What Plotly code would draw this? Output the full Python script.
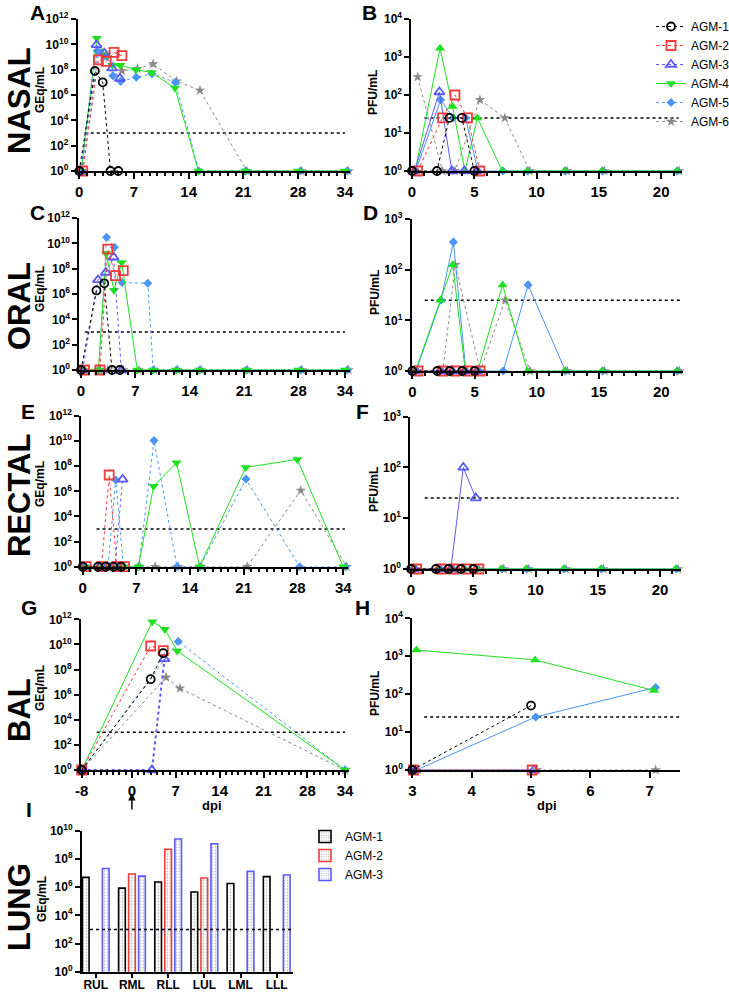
import plotly.graph_objects as go

W, H = 729, 992
FONT = "Liberation Sans"

# ---------------- data ----------------
animals = ["AGM-1", "AGM-2", "AGM-3", "AGM-4", "AGM-5", "AGM-6"]

# swab sampling days (dpi), per animal
days_agm1 = [0, 2, 3, 4, 5]
days_agm2 = [0.45, 2.45, 3.45, 4.45, 5.45]
days_agm3 = [0.2, 2.2, 3.2, 4.2, 5.2]
days_agm4 = [0.25, 2.25, 3.25, 4.25, 5.25, 7.25, 9.25, 12.25, 15.25, 21.25, 28.0, 34.0]
days_agm5 = [0.3, 2.3, 3.3, 4.3, 5.3, 7.3, 9.3, 12.3, 15.3, 21.3, 28.3, 34.3]
days_agm6 = [0.45, 2.45, 3.45, 5.45, 7.45, 9.45, 12.45, 15.45, 21.45, 28.45, 34.45]
oral_days_agm5 = [0.3, 2.3, 3.3, 4.3, 5.3, 8.6, 9.3, 12.3, 15.3, 21.3, 28.3, 34.3]

# A  NASAL  GEq/mL
nasal_geq_agm1 = [1, 8e7, 1e7, 1, 1]
nasal_geq_agm2 = [1, 6e8, 4.5e8, 2.3e9, 1.3e9]
nasal_geq_agm3 = [1, 9e9, 2e9, 1.3e8, 2e7]
nasal_geq_agm4 = [1, 3e10, 1.6e9, 2.2e8, 2.2e8, 1e8, 6e7, 3.5e6, 1, 1, 1, 1]
nasal_geq_agm5 = [1, 3e9, 1.2e9, 3.3e7, 1.2e7, 2.5e7, 4.8e7, 1e7, 1, 1, 1, 1]
nasal_geq_agm6 = [1, 3e9, 1.5e9, 8e7, 1.2e8, 2.8e8, 1.2e7, 2.3e6, 1, 1, 1]

# B  NASAL  PFU/mL
nasal_pfu_agm1 = [1, 1, 25, 25, 1]
nasal_pfu_agm2 = [1, 25, 100, 25, 1]
nasal_pfu_agm3 = [1, 120, 1, 1, 1]
nasal_pfu_agm4 = [1, 1700, 50, 1, 25, 1, 1, 1, 1, 1]
nasal_pfu_agm5 = [1, 75, 25, 25, 1, 1, 1, 1, 1, 1]
nasal_pfu_agm6 = [300, 1, 1, 75, 25, 1, 1, 1, 1]

# C  ORAL  GEq/mL
oral_geq_agm1 = [1, 1.9e6, 7e6, 1, 1]
oral_geq_agm2 = [1, 1, 3.5e9, 2.8e7, 7e7]
oral_geq_agm3 = [1, 1.3e7, 5e7, 8e8, 1]
oral_geq_agm4 = [1, 1, 1.6e9, 2e6, 3e8, 1, 1, 1, 1, 1, 1, 1]
oral_geq_agm5 = [1, 1, 3e10, 4.8e9, 8e6, 7e6, 1, 1, 1, 1, 1, 1]
oral_geq_agm6 = [1, 1, 1, 1, 1, 1, 1, 1, 1, 1, 1]

# D  ORAL  PFU/mL
oral_pfu_agm1 = [1, 1, 1, 1, 1]
oral_pfu_agm2 = [1, 1, 1, 1, 1]
oral_pfu_agm3 = [1, 1, 1, 1, 1]
oral_pfu_agm4 = [1, 25, 125, 1, 1, 50, 1, 1, 1, 1]
oral_pfu_agm5 = [1, 25, 350, 1, 1, 1, 50, 1, 1, 1]
oral_pfu_agm6 = [1, 1, 125, 1, 25, 1, 1, 1, 1]

# E  RECTAL  GEq/mL
rectal_geq_agm1 = [1, 1, 1, 1, 1]
rectal_geq_agm2 = [1, 1, 2e7, 1, 1]
rectal_geq_agm3 = [1, 1, 1, 1, 9e6]
rectal_geq_agm4 = [1, 1, 1, 1, 1, 1, 2.6e6, 1.9e8, 1, 8e7, 3.5e8, 1]
rectal_geq_agm5 = [1, 1, 1, 8e6, 1, 1, 1.1e10, 1, 1, 9.5e6, 1, 1]
rectal_geq_agm6 = [1, 1, 1, 1, 1, 1, 1, 1, 1, 1.2e6, 1]

# F  RECTAL  PFU/mL
rectal_pfu_agm1 = [1, 1, 1, 1, 1]
rectal_pfu_agm2 = [1, 1, 1, 1, 1]
rectal_pfu_agm3 = [1, 1, 1, 100, 25]
rectal_pfu_agm4 = [1, 1, 1, 1, 1, 1, 1, 1, 1, 1]
rectal_pfu_agm5 = [1, 1, 1, 1, 1, 1, 1, 1, 1, 1]
rectal_pfu_agm6 = [1, 1, 1, 1, 1, 1, 1, 1, 1]

# G  BAL  GEq/mL
bal_days_agm1 = [-8, 3, 5]
bal_days_agm2 = [-8, 3, 5]
bal_days_agm3 = [-8, 3.2, 5.2]
bal_days_agm4 = [-8, 3.25, 5.25, 7.25, 34]
bal_days_agm5 = [-8, 7.4, 34]
bal_days_agm6 = [-8, 5.45, 7.65, 34]
bal_geq_agm1 = [1, 1.7e7, 2e9]
bal_geq_agm2 = [1, 7.5e9, 3.2e9]
bal_geq_agm3 = [1, 1, 7e8]
bal_geq_agm4 = [1, 6.5e11, 1.6e11, 3e9, 1]
bal_geq_agm5 = [1, 1.7e10, 1]
bal_geq_agm6 = [1, 2.4e7, 3.2e6, 1]

# H  BAL  PFU/mL
balpfu_days_agm1 = [3, 5]
balpfu_days_agm2 = [3.02, 5.02]
balpfu_days_agm3 = [3.05, 5.05]
balpfu_days_agm4 = [3.07, 5.07, 7.07]
balpfu_days_agm5 = [3.07, 5.08, 7.1]
balpfu_days_agm6 = [5.1, 7.1]
bal_pfu_agm1 = [1, 50]
bal_pfu_agm2 = [1, 1]
bal_pfu_agm3 = [1, 1]
bal_pfu_agm4 = [1450, 800, 125]
bal_pfu_agm5 = [1, 25, 150]
bal_pfu_agm6 = [1, 1]

# I  LUNG  GEq/mL
lobes = ["RUL", "RML", "RLL", "LUL", "LML", "LLL"]
lung_agm1 = [4.9e6, 8.5e5, 2.3e6, 4.5e5, 1.8e6, 5.5e6]
lung_agm2 = [None, 8.5e6, 4.8e8, 4.4e6, None, None]
lung_agm3 = [2.1e7, 6e6, 2.6e9, 1.2e9, 1.3e7, 7.2e6]

geq_lod = 1000
pfu_lod = 25

swab_days = [days_agm1, days_agm2, days_agm3, days_agm4, days_agm5, days_agm6]
oral_days = [days_agm1, days_agm2, days_agm3, days_agm4, oral_days_agm5, days_agm6]
bal_days = [bal_days_agm1, bal_days_agm2, bal_days_agm3, bal_days_agm4, bal_days_agm5, bal_days_agm6]
balpfu_days = [balpfu_days_agm1, balpfu_days_agm2, balpfu_days_agm3, balpfu_days_agm4, balpfu_days_agm5, balpfu_days_agm6]

# ---------------- styles ----------------
COL = {"AGM-1": "#000000", "AGM-2": "#f23b3b", "AGM-3": "#5a5aff",
       "AGM-4": "#1fe01f", "AGM-5": "#4a95f5", "AGM-6": "#8a8a8a"}
SYM = {"AGM-1": "circle-open", "AGM-2": "square-open", "AGM-3": "triangle-up-open",
       "AGM-4": "triangle-down", "AGM-5": "diamond", "AGM-6": "star"}
SIZE = {"AGM-1": 8, "AGM-2": 9, "AGM-3": 9, "AGM-4": 9, "AGM-5": 7, "AGM-6": 8}

fig = go.Figure()


def ax_names(n):
    return ("xaxis" if n == 1 else f"xaxis{n}", "yaxis" if n == 1 else f"yaxis{n}",
            "x" if n == 1 else f"x{n}", "y" if n == 1 else f"y{n}")


def sup_ticks(maxexp, step):
    vals = [10 ** e for e in range(0, maxexp + 1, step)]
    txt = [f"10<sup>{e}</sup>" for e in range(0, maxexp + 1, step)]
    return vals, txt


def setup_axes(n, xpx, ypx, xr, yr_max, ystep, xtickvals, minor_dtick, xticktext=None,
               xfont=15, xticklen=6, xstandoff=0):
    xa, ya, xs, ys = ax_names(n)
    yv, yt = sup_ticks(yr_max, ystep)
    xdict = dict(domain=[xpx[0] / W, xpx[1] / W], range=xr, anchor=ys, automargin=False,
                 showgrid=False, zeroline=False, showline=True, linecolor="black",
                 linewidth=2, ticks="outside", ticklen=xticklen, tickwidth=2, tickcolor="black",
                 tickmode="array", tickvals=xtickvals, ticklabelstandoff=xstandoff,
                 ticktext=xticktext or [str(v) for v in xtickvals],
                 tickfont=dict(family=FONT, size=xfont, color="black", weight="bold"))
    if minor_dtick:
        xdict["minor"] = dict(tickmode="linear", tick0=0, dtick=minor_dtick, ticks="outside",
                              ticklen=3, tickwidth=1.5, tickcolor="black", showgrid=False)
    ydict = dict(type="log", domain=[1 - ypx[1] / H, 1 - ypx[0] / H], range=[0, yr_max],
                 anchor=xs, automargin=False, showgrid=False, zeroline=False, showline=True,
                 linecolor="black", linewidth=2, ticks="outside", ticklen=5, tickwidth=2,
                 tickcolor="black", tickmode="array", tickvals=yv, ticktext=yt,
                 tickfont=dict(family=FONT, size=12, color="black", weight="bold"))
    fig.update_layout(**{xa: xdict, ya: ydict})


def add_lod(n, x0, x1, level):
    _, _, xs, ys = ax_names(n)
    fig.add_trace(go.Scatter(x=[x0, x1], y=[level, level], mode="lines", xaxis=xs, yaxis=ys,
                             line=dict(color="black", width=1.5, dash="dot"),
                             showlegend=False, hoverinfo="skip"))


def add_series(n, days, series, solid_set, pfu=False, legend=False, widths=None):
    _, _, xs, ys = ax_names(n)
    order = list(range(len(animals)))[::-1]
    for i in order:
        a = animals[i]
        vals = series[i]
        t = days[i][:len(vals)]
        sym = SYM[a]
        if pfu and a == "AGM-4":
            sym = "triangle-up"
        open_m = sym.endswith("open")
        lw = (widths or {}).get(a, 1.0)
        fig.add_trace(go.Scatter(
            x=t, y=vals, mode="lines+markers", xaxis=xs, yaxis=ys, name=a,
            legendrank=i + 1, legendgroup=a, showlegend=legend, legend="legend",
            cliponaxis=False,
            line=dict(color=COL[a], width=lw, dash="solid" if a in solid_set else "dot"),
            marker=dict(symbol=sym, size=SIZE[a], color=COL[a],
                        line=dict(color=COL[a], width=1.8 if open_m else 0))))


geq_solid = {"AGM-4"}
pfu_solid = {"AGM-3", "AGM-4", "AGM-5"}

# A
setup_axes(1, (77.7, 349.6), (19, 171), [-0.2, 34.6], 12, 2, [0, 7, 14, 21, 28, 34], 1)
add_lod(1, 0.7, 34, geq_lod)
add_series(1, swab_days, [nasal_geq_agm1, nasal_geq_agm2, nasal_geq_agm3, nasal_geq_agm4,
                          nasal_geq_agm5, nasal_geq_agm6], geq_solid, legend=True)
# B
setup_axes(2, (411.4, 682.3), (19, 171), [-0.05, 21.7], 4, 1, [0, 5, 10, 15, 20], 1)
add_lod(2, 1.0, 21.4, pfu_lod)
add_series(2, swab_days, [nasal_pfu_agm1, nasal_pfu_agm2, nasal_pfu_agm3, nasal_pfu_agm4,
                          nasal_pfu_agm5, nasal_pfu_agm6], pfu_solid, pfu=True)
# C
setup_axes(3, (79.4, 349.7), (218, 370), [-0.2, 34.6], 12, 2, [0, 7, 14, 21, 28, 34], 1)
add_lod(3, 0.5, 34, geq_lod)
add_series(3, oral_days, [oral_geq_agm1, oral_geq_agm2, oral_geq_agm3, oral_geq_agm4,
                          oral_geq_agm5, oral_geq_agm6], geq_solid)
# D
setup_axes(4, (411.7, 682.5), (219, 371), [-0.05, 21.7], 3, 1, [0, 5, 10, 15, 20], 1)
add_lod(4, 1.0, 21.5, pfu_lod)
add_series(4, swab_days, [oral_pfu_agm1, oral_pfu_agm2, oral_pfu_agm3, oral_pfu_agm4,
                          oral_pfu_agm5, oral_pfu_agm6], pfu_solid, pfu=True)
# E
setup_axes(5, (81.2, 347.9), (416, 566.7), [-0.2, 34.6], 12, 2, [0, 7, 14, 21, 28, 34], 1)
add_lod(5, 1.8, 34.2, geq_lod)
add_series(5, swab_days, [rectal_geq_agm1, rectal_geq_agm2, rectal_geq_agm3, rectal_geq_agm4,
                          rectal_geq_agm5, rectal_geq_agm6], geq_solid)
# F
setup_axes(6, (410.4, 681.2), (416.7, 569), [-0.05, 21.7], 3, 1, [0, 5, 10, 15, 20], 1)
add_lod(6, 1.1, 21.5, pfu_lod)
add_series(6, swab_days, [rectal_pfu_agm1, rectal_pfu_agm2, rectal_pfu_agm3, rectal_pfu_agm4,
                          rectal_pfu_agm5, rectal_pfu_agm6], pfu_solid, pfu=True)
# G
setup_axes(7, (81.1, 348.8), (619.3, 770), [-8.1, 34.6], 12, 2, [-8, 0, 7, 14, 21, 28, 34], 1)
add_lod(7, -5.6, 34, geq_lod)
add_series(7, bal_days, [bal_geq_agm1, bal_geq_agm2, bal_geq_agm3, bal_geq_agm4,
                         bal_geq_agm5, bal_geq_agm6], geq_solid, widths={"AGM-3": 2})
# H
setup_axes(8, (412.3, 680), (618.3, 770), [3, 7.51], 4, 1, [3, 4, 5, 6, 7], None)
add_lod(8, 3.2, 7.5, pfu_lod)
add_series(8, balpfu_days, [bal_pfu_agm1, bal_pfu_agm2, bal_pfu_agm3, bal_pfu_agm4,
                            bal_pfu_agm5, bal_pfu_agm6], pfu_solid, pfu=True)

# I  bars
lobe_pos = list(range(len(lobes)))
setup_axes(9, (82, 293), (830.7, 971.7), [-0.38, 5.45], 10, 2, lobe_pos, None,
           xticktext=lobes, xfont=12, xticklen=4, xstandoff=-3)
add_lod(9, -0.16, 5.4, geq_lod)
for a, vals in zip(animals[:3], [lung_agm1, lung_agm2, lung_agm3]):
    fig.add_trace(go.Bar(
        x=lobe_pos, y=vals, name=a, xaxis="x9", yaxis="y9", legend="legend2",
        marker=dict(color="white", line=dict(color=COL[a], width=1.6),
                    pattern=dict(shape=".", fgcolor="#666666", bgcolor="white",
                                 size=3, solidity=0.25))))

fig.update_layout(barmode="group", bargap=0.17, bargroupgap=0.33)

# ---------------- annotations ----------------
ann = []


def text_ann(txt, xpx, ypx, size, angle=0, bold=True):
    ann.append(dict(text=txt, x=xpx / W, y=1 - ypx / H, xref="paper", yref="paper",
                    showarrow=False, textangle=angle, xanchor="center", yanchor="middle",
                    font=dict(family=FONT, size=size, color="black",
                              weight="bold" if bold else "normal")))


for lab, yc in [("NASAL", 101), ("ORAL", 306), ("RECTAL", 496), ("BAL", 710), ("LUNG", 907)]:
    text_ann(lab, 19, yc, 31, -90)

for lab, xc, yc in [("A", 37, 13), ("B", 369, 13), ("C", 37, 212), ("D", 370, 212),
                    ("E", 28, 411), ("F", 362, 411), ("G", 29, 607), ("H", 362, 607),
                    ("I", 29, 809)]:
    text_ann(lab, xc, yc, 21)

for lab, xc, yc in [("GEq/mL", 40, 90), ("PFU/mL", 373, 93), ("GEq/mL", 40, 289),
                    ("PFU/mL", 375, 293), ("GEq/mL", 40, 484), ("PFU/mL", 374, 490),
                    ("GEq/mL", 40, 688), ("PFU/mL", 375, 694), ("GEq/mL", 42, 899)]:
    text_ann(lab, xc, yc, 12, -90)

text_ann("dpi", 212, 805, 13)
text_ann("dpi", 547, 805, 13)

ann.append(dict(x=0, y=1 - 793 / H, xref="x7", yref="paper", text="", showarrow=True,
                ax=0, ay=18, axref="pixel", ayref="pixel", arrowhead=2, arrowsize=1,
                arrowwidth=1.5, arrowcolor="black"))

fig.update_layout(
    annotations=ann,
    width=W, height=H, autosize=False,
    margin=dict(l=0, r=0, t=0, b=0, autoexpand=False),
    paper_bgcolor="white", plot_bgcolor="white",
    font=dict(family=FONT, color="black"),
    legend=dict(x=651 / W, y=1 - 12 / H, xanchor="left", yanchor="top",
                font=dict(family=FONT, size=12, color="black"),
                bgcolor="rgba(0,0,0,0)", traceorder="grouped", itemwidth=30,
                tracegroupgap=0),
    legend2=dict(x=305 / W, y=1 - 822 / H, xanchor="left", yanchor="top",
                 font=dict(family=FONT, size=12, color="black"),
                 bgcolor="rgba(0,0,0,0)", traceorder="normal", itemwidth=30),
)

fig.write_html("out.html", config={"displayModeBar": False},
               post_script="document.body.style.margin='0px';")
